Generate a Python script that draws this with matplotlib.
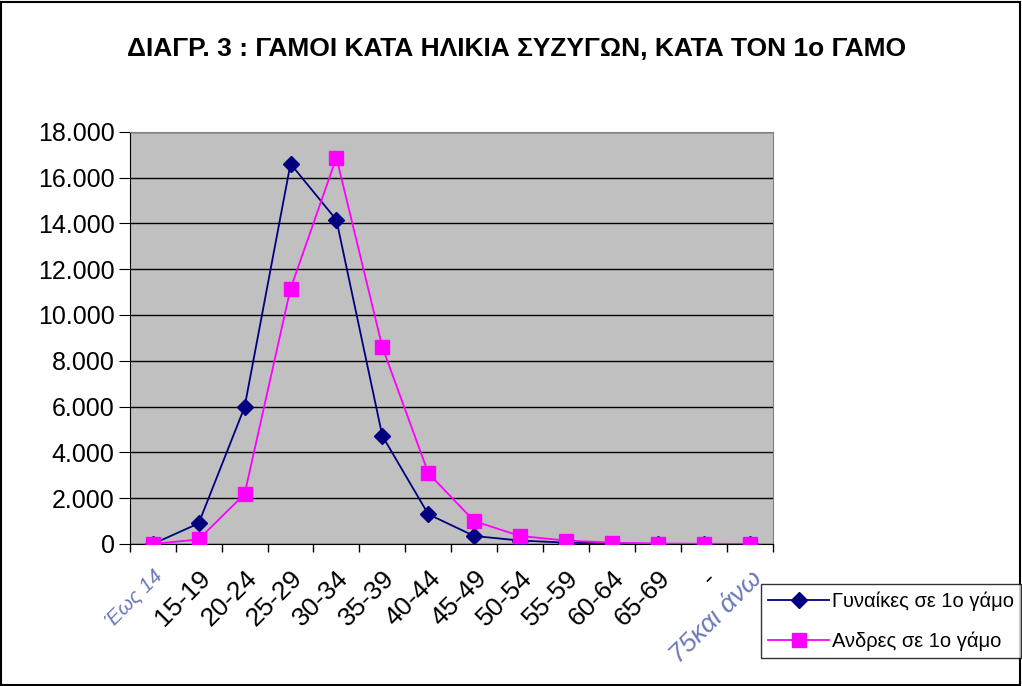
import numpy as np
import matplotlib.pyplot as plt
from matplotlib.patches import Rectangle
from matplotlib.ticker import FuncFormatter, MultipleLocator

plt.rcParams['font.family'] = ['Liberation Sans', 'DejaVu Sans']

age_groups = ["Έως 14", "15-19", "20-24", "25-29", "30-34", "35-39", "40-44",
              "45-49", "50-54", "55-59", "60-64", "65-69", "-", "75και άνω"]
women = [0, 900, 5980, 16600, 14150, 4720, 1300, 350, 150, 60, 20, 5, 0, 0]
men = [0, 200, 2180, 11140, 16870, 8600, 3100, 1000, 350, 150, 60, 20, 10, 5]

title = "ΔΙΑΓΡ. 3 : ΓΑΜΟΙ ΚΑΤΑ ΗΛΙΚΙΑ ΣΥΖΥΓΩΝ, ΚΑΤΑ ΤΟΝ 1ο ΓΑΜΟ"

fig = plt.figure(figsize=(10.22, 6.86), dpi=100)
ax = fig.add_axes([0.127, 0.207, 0.629, 0.601])

x = np.arange(len(age_groups))
ax.plot(x, women, color='#000080', lw=1.3, marker='D', markersize=8,
        label="Γυναίκες σε 1ο γάμο", zorder=3)
ax.plot(x, men, color='#ff00ff', lw=1.3, marker='s', markersize=10,
        label="Ανδρες σε 1ο γάμο", zorder=3)

ax.set_facecolor('#c0c0c0')
ax.set_xlim(-0.5, len(age_groups) - 0.5)
ax.set_ylim(0, 18000)
ax.yaxis.set_major_locator(MultipleLocator(2000))
ax.yaxis.set_major_formatter(FuncFormatter(lambda v, p: "{:,.0f}".format(v).replace(",", ".")))
ax.grid(axis='y', color='black', lw=1)
ax.set_axisbelow(True)

ax.set_xticks(np.arange(-0.5, len(age_groups), 1))
ax.set_xticklabels([])
ax.tick_params(axis='x', direction='out', length=6, width=1)
ax.set_xticks(x, minor=True)
ax.set_xticklabels(age_groups, minor=True, rotation=45, ha='right',
                   rotation_mode='anchor', fontsize=19)
ax.tick_params(axis='x', which='minor', length=0, pad=16)
for lbl in ax.get_xticklabels(minor=True):
    if lbl.get_text() in ("Έως 14", "75και άνω"):
        lbl.set_color('#6a78b8')
        lbl.set_style('italic')
    if lbl.get_text() == "Έως 14":
        lbl.set_fontsize(15)
ax.tick_params(axis='y', direction='out', length=8, labelsize=18, pad=3)

for side in ['top', 'right']:
    ax.spines[side].set_color('#808080')
ax.spines['left'].set_color('black')
ax.spines['bottom'].set_color('black')

fig.text(0.505, 0.928, title, ha='center', va='center', fontsize=19, fontweight='bold')

leg = fig.legend(loc='upper left', bbox_to_anchor=(0.745, 0.148), borderaxespad=0,
                 fontsize=14.5, frameon=True, fancybox=False, edgecolor='black',
                 handlelength=3.0, borderpad=0.35, labelspacing=1.0, handletextpad=0.15)
leg.get_frame().set_linewidth(1)

fig.patches.append(Rectangle((0.001, 0.002), 0.997, 0.995, transform=fig.transFigure,
                             fill=False, edgecolor='black', lw=1.5))

fig.savefig("out.png", dpi=100)
